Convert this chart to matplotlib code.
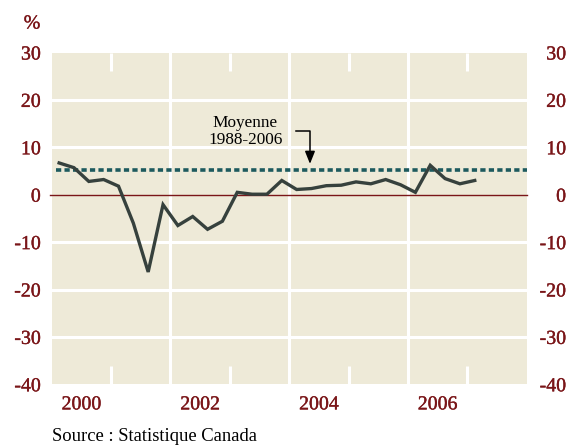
import matplotlib
matplotlib.use("Agg")
import matplotlib.pyplot as plt
import matplotlib.patheffects as pe
import numpy as np

# Data: quarterly % change, 2000Q1 .. 2007Q1
quarters = [2000 + (i + 0.5) / 4 for i in range(29)]
values = [6.7, 5.7, 2.8, 3.2, 1.8, -6.0, -16.3, -2.1, -6.5, -4.6, -7.3, -5.6,
          0.5, 0.1, 0.1, 3.0, 1.1, 1.3, 1.9, 2.0, 2.7, 2.3, 3.2, 2.1,
          0.5, 6.2, 3.4, 2.3, 3.0]
mean_value = 5.3
year_labels = ["2000", "2002", "2004", "2006"]
year_positions = [2000.5, 2002.5, 2004.5, 2006.5]
y_ticks = [30, 20, 10, 0, -10, -20, -30, -40]

W, H = 573, 445
fig = plt.figure(figsize=(W / 100, H / 100), dpi=100)
L, R, T, B = 51.7, 526.7, 52.5, 384.3
ax = fig.add_axes([L / W, 1 - B / H, (R - L) / W, (B - T) / H])

red = "#7a1619"
beige = "#eeead8"
font = "Liberation Serif"
tick_fs = 14.3
red_fx = [pe.withStroke(linewidth=0.25, foreground=red)]

ax.set_facecolor(beige)
for s in ax.spines.values():
    s.set_visible(False)
ax.set_xlim(2000, 2008)
ax.set_ylim(-40, 30)

# horizontal gridlines
for yv in [20, 10, -10, -20, -30]:
    ax.axhline(yv, color="white", lw=2.2, zorder=1)
# vertical full lines at even years
for xv in [2002, 2004, 2006]:
    ax.axvline(xv, color="white", lw=2.2, zorder=1)
# short ticks at odd years (top and bottom)
tick_len = 70 * 18 / (B - T)
for xv in [2001, 2003, 2005, 2007]:
    ax.plot([xv, xv], [30, 30 - tick_len], color="white", lw=2.2, zorder=1, solid_capstyle="butt")
    ax.plot([xv, xv], [-40, -40 + tick_len], color="white", lw=2.2, zorder=1, solid_capstyle="butt")

# zero line
ax.plot([1999.97, 2008], [0, 0], color=red, lw=1.0, zorder=2, clip_on=False)

# mean dashed line
ax.plot([2000.07, 2008], [mean_value, mean_value], color="#1d5a5e", lw=2.6,
        dashes=(1.45, 0.9), zorder=3)

# series
ax.plot(quarters, values, color="#36413d", lw=2.4, zorder=4, solid_joinstyle="miter")

# annotation
ax.text(2003.26, 14.3, "Moyenne", ha="center", va="baseline", fontsize=12.4,
        family=font, color="black")
ax.text(2003.26, 10.7, "1988-2006", ha="center", va="baseline", fontsize=12.4,
        family=font, color="black")
ax.plot([2004.11, 2004.35, 2004.35], [13.4, 13.4, 8.0], color="black", lw=1.1, zorder=5)
ax.annotate("", xy=(2004.35, 6.5), xytext=(2004.35, 8.6),
            arrowprops=dict(arrowstyle="-|>,head_width=0.3,head_length=0.75", color="black", lw=1.1,
                            shrinkA=0, shrinkB=0))

# y tick labels left
ax.set_yticks(y_ticks)
ax.set_yticklabels([str(v) for v in y_ticks])
ax.tick_params(axis="y", length=0, pad=7.9, labelsize=tick_fs, labelcolor=red)
for lab in ax.get_yticklabels():
    lab.set_family(font)
    lab.set_path_effects(red_fx)

# right
ax2 = ax.twinx()
ax2.set_ylim(-40, 30)
for s in ax2.spines.values():
    s.set_visible(False)
ax2.set_yticks(y_ticks)
ax2.set_yticklabels([str(v) for v in y_ticks])
ax2.tick_params(axis="y", length=0, pad=28.3, labelsize=tick_fs, labelcolor=red)
for lab in ax2.get_yticklabels():
    lab.set_family(font)
    lab.set_horizontalalignment("right")
    lab.set_path_effects(red_fx)

# x labels
ax.set_xticks(year_positions)
ax.set_xticklabels(year_labels)
ax.tick_params(axis="x", length=0, pad=8, labelsize=tick_fs, labelcolor=red)
for lab in ax.get_xticklabels():
    lab.set_family(font)
    lab.set_path_effects(red_fx)

fig.text(32 / W, 1 - 28.5 / H, "%", color=red, fontsize=tick_fs, family=font, ha="center",
         va="baseline", path_effects=red_fx)
fig.text(52 / W, 1 - 440.7 / H, "Source : Statistique Canada", color="black", fontsize=13.4,
         family=font, ha="left", va="baseline")

fig.savefig("out.png", dpi=100)
